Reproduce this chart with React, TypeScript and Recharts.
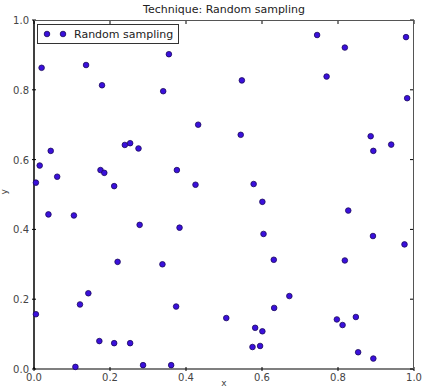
import { ScatterChart, Scatter, XAxis, YAxis, Label } from "recharts"

const xs = [
  0.02, 0.137, 0.179, 0.355, 0.34, 0.432, 0.044, 0.015, 0.005, 0.061, 0.239, 0.253, 0.275, 0.175, 0.185, 0.211, 0.376, 0.425,
  0.745, 0.818, 0.979, 0.547, 0.77, 0.982, 0.544, 0.886, 0.94, 0.893, 0.578,
  0.038, 0.105, 0.278, 0.383, 0.22, 0.338, 0.143, 0.121, 0.005, 0.374, 0.172, 0.211, 0.253, 0.109, 0.287, 0.361,
  0.601, 0.827, 0.604, 0.892, 0.975, 0.631, 0.818, 0.672, 0.632, 0.506, 0.797, 0.847, 0.812, 0.582, 0.601, 0.575, 0.595, 0.853, 0.893,
]
const ys = [
  0.863, 0.871, 0.813, 0.902, 0.796, 0.7, 0.625, 0.583, 0.534, 0.551, 0.642, 0.647, 0.632, 0.57, 0.562, 0.524, 0.57, 0.528,
  0.957, 0.921, 0.951, 0.827, 0.838, 0.776, 0.671, 0.667, 0.643, 0.625, 0.53,
  0.443, 0.44, 0.413, 0.405, 0.307, 0.3, 0.217, 0.185, 0.157, 0.179, 0.08, 0.074, 0.074, 0.006, 0.011, 0.011,
  0.479, 0.454, 0.387, 0.381, 0.357, 0.313, 0.311, 0.209, 0.175, 0.146, 0.142, 0.149, 0.126, 0.118, 0.108, 0.063, 0.066, 0.048, 0.03,
]
const ticks = [0, 0.2, 0.4, 0.6, 0.8, 1.0]

const points = xs.map((x, i) => ({ x, y: ys[i] }))

const FONT = "'DejaVu Sans', sans-serif"
const W = 424
const H = 387
const M = { top: 20, right: 10, bottom: 0, left: 0 }
const X_H = 18
const Y_W = 34
const PLOT_TOP = M.top
const PLOT_RIGHT = W - M.right

const Dot = (props: any) => (
  <circle cx={props.cx} cy={props.cy} r={2.8} fill="#3a10dc" stroke="#1c0a5c" strokeWidth={0.8} />
)

// matplotlib-style ticks pointing into the plot, mirrored on top/right
const BottomTick = (props: any) => (
  <g>
    <line x1={props.x} x2={props.x} y1={props.y} y2={props.y - 4} stroke="#000" />
    <line x1={props.x} x2={props.x} y1={PLOT_TOP} y2={PLOT_TOP + 4} stroke="#000" />
    <text x={props.x} y={props.y + 10} textAnchor="middle" fontSize={10} fill="#444" fontFamily={FONT}>
      {props.payload.value.toFixed(1)}
    </text>
  </g>
)
const LeftTick = (props: any) => (
  <g>
    <line x1={props.x} x2={props.x + 4} y1={props.y} y2={props.y} stroke="#000" />
    <line x1={PLOT_RIGHT - 4} x2={PLOT_RIGHT} y1={props.y} y2={props.y} stroke="#000" />
    <text x={props.x - 3} y={props.y + 4} textAnchor="end" fontSize={10} fill="#444" fontFamily={FONT}>
      {props.payload.value.toFixed(1)}
    </text>
  </g>
)

export default function App() {
  return (
    <div style={{ position: "absolute", left: 0, top: 0, width: W, height: H, background: "#fff" }}>
      <div
        style={{
          position: "absolute",
          left: Y_W,
          width: PLOT_RIGHT - Y_W,
          top: 3,
          textAlign: "center",
          fontFamily: FONT,
          fontSize: 11,
          color: "#222",
        }}
      >
        Technique: Random sampling
      </div>
      <ScatterChart width={W} height={H} margin={M}>
        <XAxis
          type="number"
          dataKey="x"
          domain={[0, 1]}
          ticks={ticks}
          height={X_H}
          tickSize={0}
          tickLine={false}
          axisLine={{ stroke: "#555", strokeWidth: 1.5 }}
          tick={<BottomTick />}
        >
          <Label value="x" position="insideBottom" offset={1} fontSize={9} fill="#444" fontFamily={FONT} />
        </XAxis>
        <YAxis
          type="number"
          dataKey="y"
          domain={[0, 1]}
          ticks={ticks}
          width={Y_W}
          tickSize={0}
          tickLine={false}
          axisLine={{ stroke: "#000", strokeWidth: 1.5 }}
          tick={<LeftTick />}
        >
          <Label value="y" angle={-90} position="insideLeft" offset={4} fontSize={9} fill="#444" fontFamily={FONT} />
        </YAxis>
        <Scatter name="Random sampling" data={points} shape={<Dot />} isAnimationActive={false} />
      </ScatterChart>
      <div
        style={{
          position: "absolute",
          left: Y_W,
          top: PLOT_TOP,
          width: PLOT_RIGHT - Y_W,
          height: H - X_H - PLOT_TOP,
          boxSizing: "border-box",
          borderTop: "1px solid #555",
          borderRight: "1.5px solid #555",
          pointerEvents: "none",
        }}
      />
      <div
        style={{
          position: "absolute",
          left: 37,
          top: 24,
          border: "1px solid #333",
          background: "#fff",
          display: "flex",
          alignItems: "center",
          padding: "0 5px",
          height: 20,
          boxSizing: "border-box",
          fontFamily: FONT,
          fontSize: 11,
          color: "#222",
          whiteSpace: "nowrap",
        }}
      >
        <svg width={28} height={10}>
          <circle cx={4} cy={5} r={2.8} fill="#3a10dc" stroke="#1c0a5c" strokeWidth={0.8} />
          <circle cx={20} cy={5} r={2.8} fill="#3a10dc" stroke="#1c0a5c" strokeWidth={0.8} />
        </svg>
        <span style={{ marginLeft: 3 }}>Random sampling</span>
      </div>
    </div>
  )
}
